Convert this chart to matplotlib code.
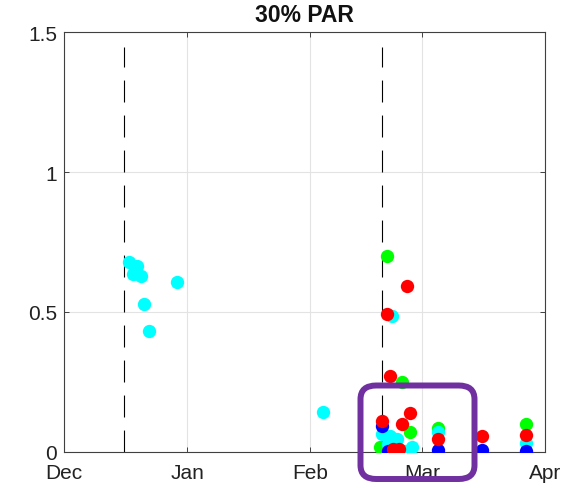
import matplotlib
matplotlib.use("Agg")
import matplotlib.pyplot as plt
from matplotlib.patches import FancyBboxPatch
import pandas as pd

plt.rcParams['font.family'] = ['Liberation Sans', 'DejaVu Sans']
plt.rcParams['lines.scale_dashes'] = False

# Sampling times and values for each series
cyan_t = ['2021-12-17 08:00', '2021-12-18 07:00', '2021-12-19 07:00', '2021-12-20 09:00',
          '2021-12-21 01:00', '2021-12-22 07:00', '2021-12-29 08:00', '2022-02-04 02:00',
          '2022-02-18 22:00', '2022-02-20 12:00', '2022-02-21 00:00', '2022-02-21 10:30',
          '2022-02-22 17:00', '2022-02-24 19:00', '2022-02-26 12:00', '2022-03-04 23:00',
          '2022-03-27 03:30']
cyan_v = [0.677, 0.635, 0.663, 0.629, 0.527, 0.431, 0.605, 0.140,
          0.063, 0.027, 0.057, 0.484, 0.045, 0.003, 0.015, 0.068, 0.030]

green_t = ['2022-02-18 12:00', '2022-02-20 07:00', '2022-02-23 23:00', '2022-02-25 22:00',
           '2022-03-04 23:00', '2022-03-27 03:30']
green_v = [0.015, 0.698, 0.248, 0.070, 0.083, 0.098]

blue_t = ['2022-02-19 02:00', '2022-02-20 12:00', '2022-03-04 23:00', '2022-03-16 05:00',
          '2022-03-27 03:30']
blue_v = [0.091, 0.002, 0.005, 0.006, 0.003]

red_t = ['2022-02-19 02:00', '2022-02-20 05:00', '2022-02-21 00:00', '2022-02-21 19:00',
         '2022-02-23 08:00', '2022-02-23 23:00', '2022-02-25 05:00', '2022-02-26 02:00',
         '2022-03-04 23:00', '2022-03-16 05:00', '2022-03-27 03:30']
red_v = [0.108, 0.492, 0.271, 0.009, 0.009, 0.098, 0.593, 0.138, 0.043, 0.057, 0.059]

event_t = ['2021-12-16 02:00', '2022-02-19 02:00']
event_top = 1.446

tick_t = ['2021-12-01', '2022-01-01', '2022-02-01', '2022-03-01', '2022-04-01']
tick_lbl = ['Dec', 'Jan', 'Feb', 'Mar', 'Apr']
y_ticks = [0, 0.5, 1, 1.5]
y_lbl = ['0', '0.5', '1', '1.5']

fig = plt.figure(figsize=(5.61, 4.89), dpi=100)
ax = fig.add_axes([64 / 561, 36.5 / 489, 481 / 561, 419.2 / 489])

ax.grid(True, color='#e3e3e3', linewidth=0.8, zorder=0)
ax.set_axisbelow(True)

for t in event_t:
    ln, = ax.plot(pd.to_datetime([t, t]), [0, event_top], color='black', linewidth=0.8, zorder=2)
    ln.set_dashes((15.8, 9.4))

series = [(green_t, green_v, '#00ff00'),
          (cyan_t, cyan_v, '#00ffff'),
          (blue_t, blue_v, '#0000ff'),
          (red_t, red_v, '#ff0000')]
for t, v, c in series:
    ax.plot(pd.to_datetime(t), v, linestyle='none', marker='o', markersize=9.6,
            markerfacecolor=c, markeredgecolor='none', zorder=3)

ax.set_xlim(pd.Timestamp('2021-12-01'), pd.Timestamp('2022-04-01'))
ax.set_ylim(0, 1.5)
ax.set_xticks(pd.to_datetime(tick_t))
ax.set_xticklabels(tick_lbl)
ax.set_yticks(y_ticks)
ax.set_yticklabels(y_lbl)

ax.tick_params(direction='in', length=3.6, width=0.7, color='#404040',
               labelsize=15, top=True, right=True, labelcolor='#222222')
ax.tick_params(axis='x', pad=8)
ax.tick_params(axis='y', pad=5)
for s in ax.spines.values():
    s.set_color('#404040')
    s.set_linewidth(0.8)

ax.set_title('30% PAR', fontsize=16.5, fontweight='bold', pad=8, color='#111111')

# highlight box around the late-February cluster
box = FancyBboxPatch((360.5 / 561, 1 - 480 / 489), (474.5 - 360.5) / 561, (480 - 386.5) / 489,
                     boxstyle='round,pad=0,rounding_size=0.028',
                     transform=fig.transFigure, facecolor='none',
                     edgecolor='#7030a0', linewidth=4.3, zorder=10, clip_on=False)
fig.patches.append(box)

fig.savefig('out.png', dpi=100)
